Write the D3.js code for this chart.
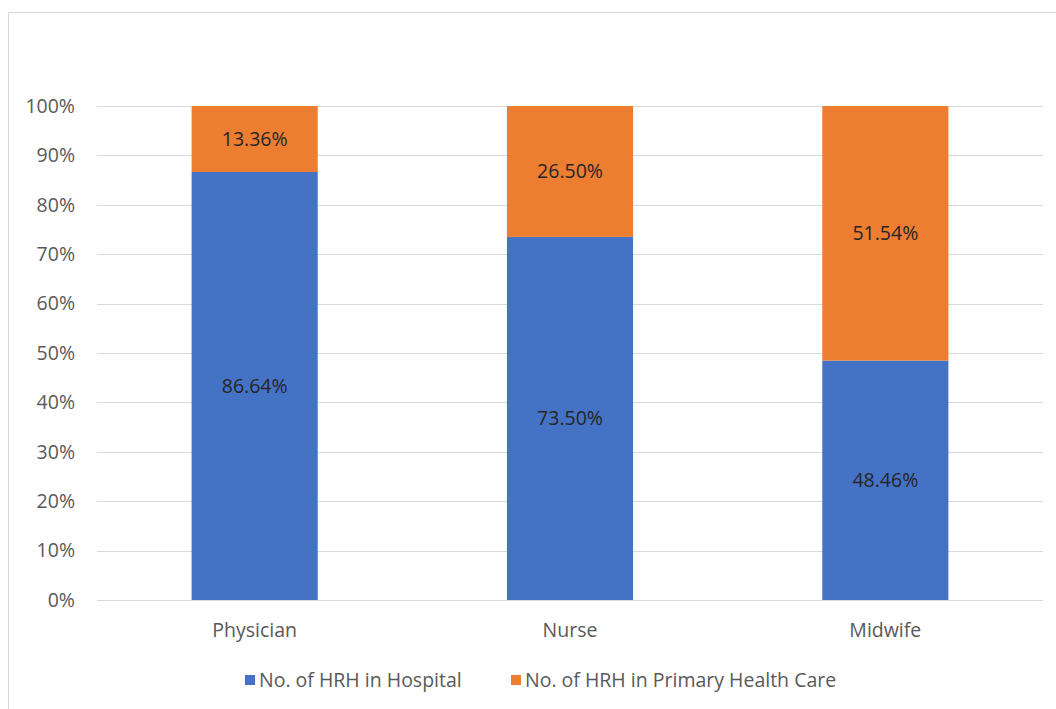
<!DOCTYPE html>
<html>
<head>
<meta charset="utf-8">
<script src="https://cdn.jsdelivr.net/npm/d3@7"></script>
<style>
  body { margin: 0; background: #fff; }
  text { font-family: "Open Sans", "Noto Sans", sans-serif; }
</style>
</head>
<body>
<script>
var categories = ["Physician", "Nurse", "Midwife"];
var hospital = [86.64, 73.50, 48.46];
var primary = [13.36, 26.50, 51.54];
var seriesNames = ["No. of HRH in Hospital", "No. of HRH in Primary Health Care"];
var colors = ["#4472C4", "#ED7D31"];
var yTicks = [0, 10, 20, 30, 40, 50, 60, 70, 80, 90, 100];

var width = 1056, height = 709;
var margin = {top: 106, right: 13, bottom: 109, left: 97};
var fontSize = 19.5;

var svg = d3.select("body").append("svg")
    .attr("width", width)
    .attr("height", height);

// outer chart frame
svg.append("rect")
    .attr("x", 8.5).attr("y", 12.5)
    .attr("width", 1060).attr("height", 710)
    .attr("fill", "none")
    .attr("stroke", "#D9D9D9");

var xScale = d3.scaleBand()
    .domain(categories)
    .range([margin.left, width - margin.right])
    .paddingInner(0.6).paddingOuter(0.3);

var yScale = d3.scaleLinear()
    .domain([0, 100])
    .range([height - margin.bottom, margin.top]);

// gridlines
svg.append("g").selectAll("line").data(yTicks).enter().append("line")
    .attr("x1", margin.left).attr("x2", width - margin.right)
    .attr("y1", function (d) { return Math.round(yScale(d)) + 0.5; })
    .attr("y2", function (d) { return Math.round(yScale(d)) + 0.5; })
    .attr("stroke", "#D9D9D9").attr("stroke-width", 1);

// y labels
svg.append("g").selectAll("text").data(yTicks).enter().append("text")
    .attr("x", 75)
    .attr("y", function (d) { return yScale(d); })
    .attr("dy", "0.35em")
    .attr("text-anchor", "end")
    .attr("font-size", fontSize)
    .attr("fill", "#595959")
    .text(function (d) { return d + "%"; });

// stacked bars
var rows = categories.map(function (c, i) {
    return {cat: c, hospital: hospital[i], primary: primary[i]};
});
var stack = d3.stack().keys(["hospital", "primary"])(rows);

stack.forEach(function (layer, k) {
    var g = svg.append("g");
    g.selectAll("rect").data(layer).enter().append("rect")
        .attr("x", function (d) { return xScale(d.data.cat); })
        .attr("width", xScale.bandwidth())
        .attr("y", function (d) { return yScale(d[1]); })
        .attr("height", function (d) { return yScale(d[0]) - yScale(d[1]); })
        .attr("fill", colors[k]);
    g.selectAll("text").data(layer).enter().append("text")
        .attr("x", function (d) { return xScale(d.data.cat) + xScale.bandwidth() / 2; })
        .attr("y", function (d) { return yScale((d[0] + d[1]) / 2); })
        .attr("dy", "0.35em")
        .attr("text-anchor", "middle")
        .attr("font-size", fontSize)
        .attr("fill", "#262626")
        .text(function (d) { return (d[1] - d[0]).toFixed(2) + "%"; });
});

// category labels
svg.append("g").selectAll("text").data(categories).enter().append("text")
    .attr("x", function (d) { return xScale(d) + xScale.bandwidth() / 2; })
    .attr("y", 630)
    .attr("dy", "0.35em")
    .attr("text-anchor", "middle")
    .attr("font-size", fontSize)
    .attr("fill", "#595959")
    .text(function (d) { return d; });

// legend
var legendX = [245, 511];
var legend = svg.append("g").selectAll("g").data(seriesNames).enter().append("g")
    .attr("transform", function (d, i) { return "translate(" + legendX[i] + ",680)"; });
legend.append("rect")
    .attr("x", 0).attr("y", -5)
    .attr("width", 10).attr("height", 10)
    .attr("fill", function (d, i) { return colors[i]; });
legend.append("text")
    .attr("x", 14).attr("y", 0)
    .attr("dy", "0.35em")
    .attr("font-size", fontSize)
    .attr("fill", "#595959")
    .text(function (d) { return d; });
</script>
</body>
</html>
